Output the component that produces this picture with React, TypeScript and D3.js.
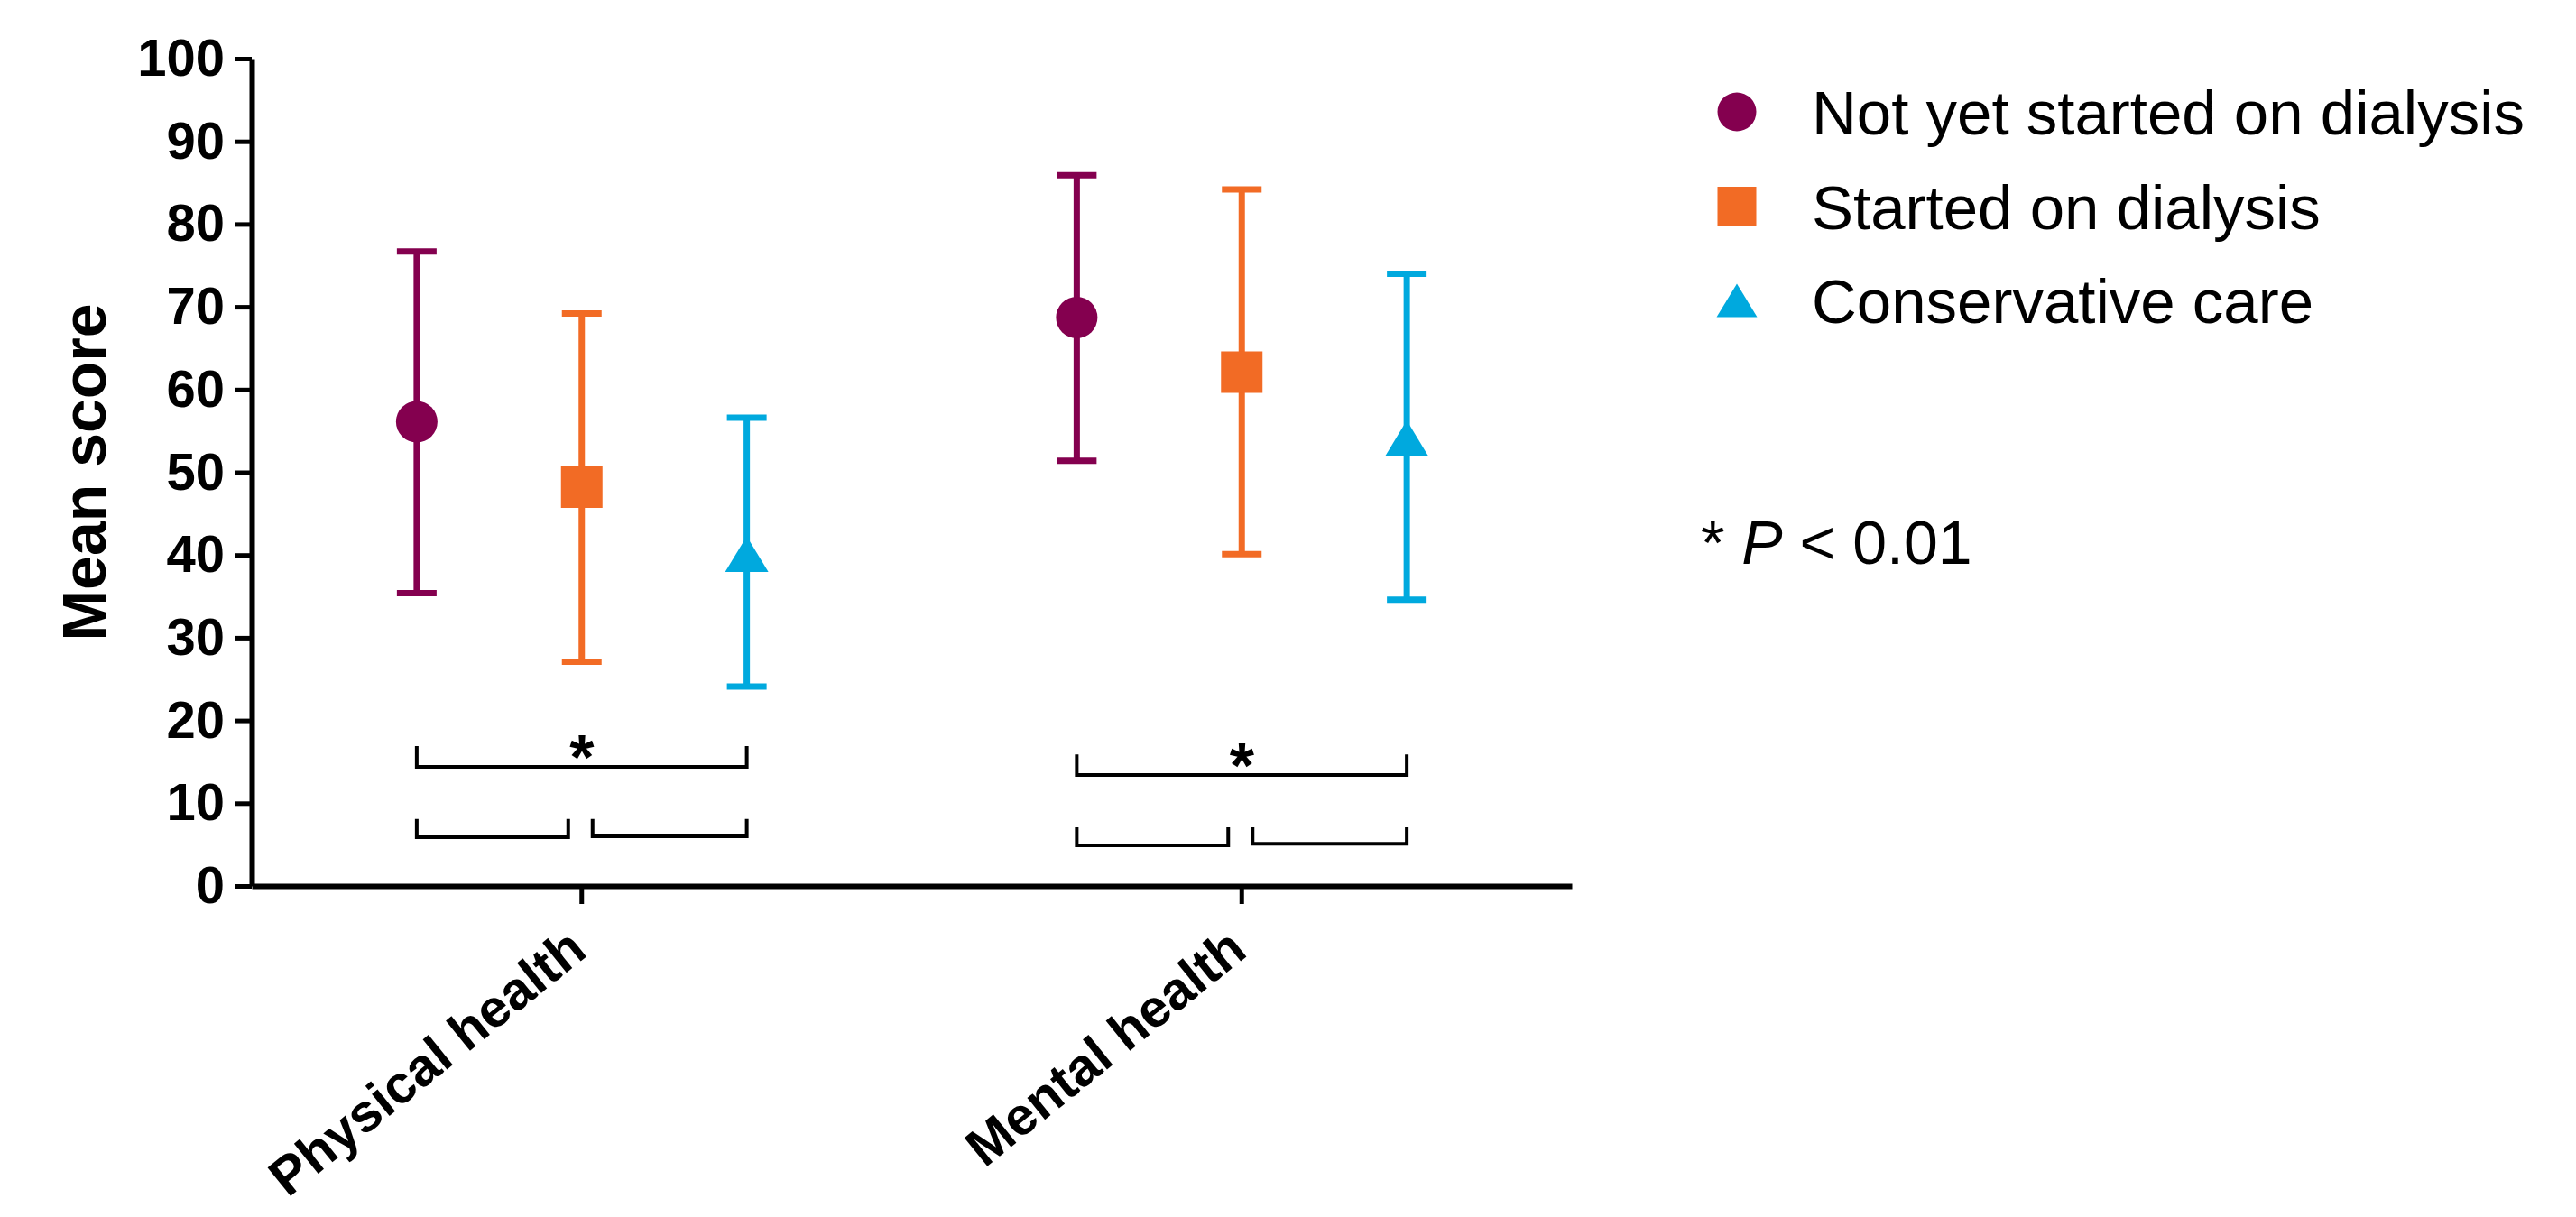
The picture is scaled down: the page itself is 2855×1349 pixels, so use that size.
import * as d3 from "d3";
import { useEffect, useRef } from "react";

const categories = ["Physical health", "Mental health"];
const seriesNames = [
  "Not yet started on dialysis",
  "Started on dialysis",
  "Conservative care",
];
const seriesColors = ["#84004f", "#f26b25", "#00a9de"];
const seriesShapes = ["circle", "square", "triangle"];

// one row per series, one value per category
const meanValues = [
  [56.1, 68.7],
  [48.2, 62.1],
  [40.1, 54.1],
];
const upperValues = [
  [76.7, 85.9],
  [69.2, 84.2],
  [56.6, 74.0],
];
const lowerValues = [
  [35.4, 51.4],
  [27.1, 40.1],
  [24.1, 34.6],
];

const yTicks = [0, 10, 20, 30, 40, 50, 60, 70, 80, 90, 100];

// significance brackets
const bracketCategory = [0, 0, 0, 1, 1, 1];
const bracketFrom = [0, 0, 1, 0, 0, 1];
const bracketTo = [2, 1, 2, 2, 1, 2];
const bracketLevel = [14.4, 5.9, 6.0, 13.4, 4.9, 5.1];
const bracketTickTop = [16.9, 8.1, 8.1, 15.9, 7.1, 7.1];
const bracketStar = [true, false, false, true, false, false];

const width = 2855;
const height = 1349;
const font = "'Liberation Sans', Arial, Helvetica, sans-serif";

function markerPath(shape: string, size: number) {
  const h = size / 2;
  if (shape === "square") return `M${-h},${-h}H${h}V${h}H${-h}Z`;
  if (shape === "triangle") {
    const th = size * 0.43;
    return `M0,${-th}L${h + 1},${th}L${-h - 1},${th}Z`;
  }
  return d3.arc()({
    innerRadius: 0,
    outerRadius: h,
    startAngle: 0,
    endAngle: Math.PI * 2,
  }) as string;
}

function drawChart(svgElement: SVGSVGElement) {
  const svg = d3.select(svgElement);
  svg.selectAll("*").remove();

  const xScale = d3.scaleBand().domain(categories).range([279, 1742]);
  const innerScale = d3
    .scalePoint()
    .domain(seriesNames)
    .range([0, xScale.bandwidth()])
    .padding(1);
  const yScale = d3.scaleLinear().domain([0, 100]).range([982, 65]);

  const posX = (ci: number, si: number) =>
    (xScale(categories[ci]) as number) + (innerScale(seriesNames[si]) as number);

  // y axis
  const yAxis = svg
    .append("g")
    .attr("transform", "translate(279,0)")
    .call(
      d3
        .axisLeft(yScale)
        .tickValues(yTicks)
        .tickSize(18)
        .tickSizeOuter(0)
        .tickPadding(12)
    );
  yAxis.select(".domain").attr("stroke", "#000").attr("stroke-width", 6);
  yAxis.selectAll(".tick line").attr("stroke", "#000").attr("stroke-width", 5);
  yAxis
    .selectAll(".tick text")
    .attr("fill", "#000")
    .style("font-family", font)
    .style("font-size", "58px")
    .style("font-weight", "700");

  // x axis
  const xAxis = svg
    .append("g")
    .attr("transform", "translate(0,982)")
    .call(
      d3
        .axisBottom(xScale)
        .tickSize(20)
        .tickSizeOuter(0)
        .tickFormat(() => "")
    );
  xAxis.select(".domain").attr("stroke", "#000").attr("stroke-width", 6);
  xAxis.selectAll(".tick line").attr("stroke", "#000").attr("stroke-width", 5);

  svg
    .append("g")
    .selectAll("text")
    .data(categories)
    .join("text")
    .attr(
      "transform",
      (d) =>
        `translate(${(xScale(d) as number) + xScale.bandwidth() / 2 + 8},1058) rotate(-39)`
    )
    .attr("text-anchor", "end")
    .attr("fill", "#000")
    .style("font-family", font)
    .style("font-size", "59px")
    .style("font-weight", "700")
    .text((d) => d);

  svg
    .append("text")
    .attr("transform", `translate(117,${(yScale(0) + yScale(100)) / 2}) rotate(-90)`)
    .attr("text-anchor", "middle")
    .attr("fill", "#000")
    .style("font-family", font)
    .style("font-size", "68px")
    .style("font-weight", "700")
    .text("Mean score");

  // error bars and markers
  const capHalf = 22;
  seriesNames.forEach((name, si) => {
    const group = svg.append("g").attr("class", "series");
    categories.forEach((cat, ci) => {
      const cx = posX(ci, si);
      const yTop = yScale(upperValues[si][ci]);
      const yBot = yScale(lowerValues[si][ci]);
      group
        .append("path")
        .attr(
          "d",
          `M${cx},${yTop}V${yBot}M${cx - capHalf},${yTop}H${cx + capHalf}M${cx - capHalf},${yBot}H${cx + capHalf}`
        )
        .attr("stroke", seriesColors[si])
        .attr("stroke-width", 7)
        .attr("fill", "none");
      group
        .append("path")
        .attr("transform", `translate(${cx},${yScale(meanValues[si][ci])})`)
        .attr("d", markerPath(seriesShapes[si], 46))
        .attr("fill", seriesColors[si]);
    });
  });

  // brackets
  const brackets = svg.append("g");
  bracketLevel.forEach((level, bi) => {
    const ci = bracketCategory[bi];
    const x1 = posX(ci, bracketFrom[bi]) + (bracketFrom[bi] === 1 ? 12 : 0);
    const x2 = posX(ci, bracketTo[bi]) - (bracketTo[bi] === 1 ? 15 : 0);
    const yl = yScale(level);
    const yt = yScale(bracketTickTop[bi]);
    brackets
      .append("path")
      .attr("d", `M${x1},${yt}V${yl}H${x2}V${yt}`)
      .attr("stroke", "#000")
      .attr("stroke-width", 4)
      .attr("fill", "none");
    if (bracketStar[bi]) {
      brackets
        .append("text")
        .attr("x", (x1 + x2) / 2)
        .attr("y", yl + 14)
        .attr("text-anchor", "middle")
        .attr("fill", "#000")
        .style("font-family", font)
        .style("font-size", "70px")
        .style("font-weight", "700")
        .text("*");
    }
  });

  // legend
  const legend = svg.append("g");
  const legendItems = legend
    .selectAll("g")
    .data(seriesNames)
    .join("g")
    .attr("transform", (_, i) => `translate(1925,${124 + i * 104.5})`);
  legendItems
    .append("path")
    .attr("d", (_, i) => markerPath(seriesShapes[i], 43))
    .attr("fill", (_, i) => seriesColors[i]);
  legendItems
    .append("text")
    .attr("x", 83)
    .attr("y", 25)
    .attr("fill", "#000")
    .style("font-family", font)
    .style("font-size", "69px")
    .text((d) => d);

  const pText = svg
    .append("text")
    .attr("x", 1885)
    .attr("y", 625)
    .attr("fill", "#000")
    .style("font-family", font)
    .style("font-size", "68px");
  pText.append("tspan").text("* ");
  pText.append("tspan").style("font-style", "italic").text("P");
  pText.append("tspan").text(" < 0.01");
}

export default function App() {
  const svgRef = useRef<SVGSVGElement>(null);

  useEffect(() => {
    if (!svgRef.current) return;
    drawChart(svgRef.current);
  }, []);

  return (
    <svg
      ref={svgRef}
      width={width}
      height={height}
      style={{ position: "absolute", left: 0, top: 0, background: "#fff" }}
    />
  );
}
